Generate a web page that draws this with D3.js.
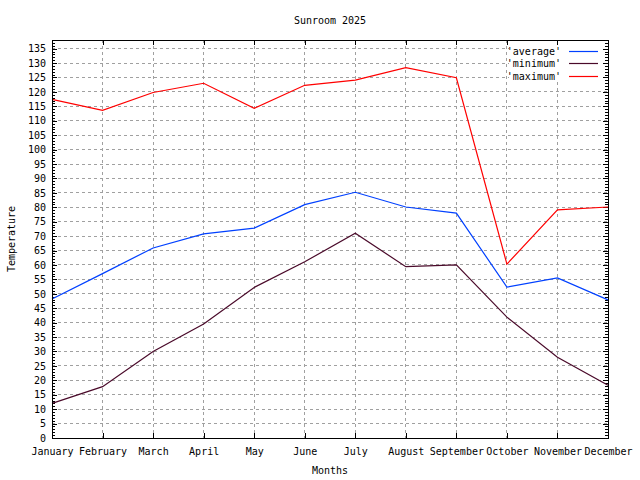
<!DOCTYPE html>
<html>
<head>
<meta charset="utf-8">
<script src="https://cdn.jsdelivr.net/npm/d3@7"></script>
<style>
  body { margin: 0; background: #fff; }
  text { font-family: "DejaVu Sans Mono", monospace; font-size: 10px; fill: #000; }
</style>
</head>
<body>
<div class="chart"></div>
<script>

var months = ["January", "February", "March", "April", "May", "June",
              "July", "August", "September", "October", "November", "December"];
var average = [48.2, 57.0, 65.9, 70.8, 72.8, 80.9, 85.2, 80.1, 78.0, 52.3, 55.5, 47.9];
var minimum = [12.0, 17.8, 30.0, 39.5, 52.2, 61.1, 71.0, 59.4, 60.0, 41.9, 28.0, 18.3];
var maximum = [117.4, 113.6, 119.8, 123.0, 114.3, 122.3, 124.1, 128.4, 124.9, 60.3, 79.1, 80.1];
var yTicks = d3.range(0, 136, 5);
var yMinor = d3.range(0, 139, 1);

var w = 640;
var h = 480;
var plotL = 52, plotR = 608, plotT = 40, plotB = 438;

var svg = d3.select(".chart")
            .append("svg")
            .attr("width", w)
            .attr("height", h);

var x = d3.scalePoint().domain(months).range([plotL, plotR]).padding(0);
var y = d3.scaleLinear().domain([0, 138]).range([plotB, plotT]);

// grid
var grid = svg.append("g")
              .attr("stroke", "#a0a0a0")
              .attr("stroke-dasharray", "3,3")
              .attr("shape-rendering", "crispEdges");

grid.selectAll("line.h")
    .data(yTicks.slice(1))
    .enter()
    .append("line")
    .attr("class", "h")
    .attr("x1", plotL)
    .attr("x2", plotR)
    .attr("y1", function(d) { return y(d); })
    .attr("y2", function(d) { return y(d); });

grid.selectAll("line.v")
    .data(months.slice(1, -1))
    .enter()
    .append("line")
    .attr("class", "v")
    .attr("x1", function(d) { return x(d); })
    .attr("x2", function(d) { return x(d); })
    .attr("y1", plotT)
    .attr("y2", plotB);

// axes, ticks pointing inward
function tidy(g) {
  g.attr("shape-rendering", "crispEdges");
  g.select(".domain").remove();
  g.selectAll("text").style("font-family", "DejaVu Sans Mono").style("font-size", "10px");
}

svg.append("g")
   .attr("transform", "translate(" + plotL + ",0)")
   .call(d3.axisLeft(y).tickValues(yTicks).tickSize(-5).tickPadding(6))
   .call(tidy);

svg.append("g")
   .attr("transform", "translate(" + plotL + ",0)")
   .call(d3.axisLeft(y).tickValues(yMinor).tickSize(-3).tickFormat(""))
   .call(tidy);

svg.append("g")
   .attr("transform", "translate(" + plotR + ",0)")
   .call(d3.axisRight(y).tickValues(yTicks).tickSize(-5).tickFormat(""))
   .call(tidy);

svg.append("g")
   .attr("transform", "translate(" + plotR + ",0)")
   .call(d3.axisRight(y).tickValues(yMinor).tickSize(-3).tickFormat(""))
   .call(tidy);

svg.append("g")
   .attr("transform", "translate(0," + plotB + ")")
   .call(d3.axisBottom(x).tickSize(-5).tickPadding(10))
   .call(tidy);

svg.append("g")
   .attr("transform", "translate(0," + plotT + ")")
   .call(d3.axisTop(x).tickSize(-5).tickFormat(""))
   .call(tidy);

// lines
var series = [
  { name: "'average'", values: average, color: "#0040ff" },
  { name: "'minimum'", values: minimum, color: "#4a0a2a" },
  { name: "'maximum'", values: maximum, color: "#ff0000" }
];

var line = d3.line()
             .x(function(d, i) { return x(months[i]); })
             .y(function(d) { return y(d); });

svg.selectAll("path.series")
   .data(series)
   .enter()
   .append("path")
   .attr("class", "series")
   .attr("d", function(d) { return line(d.values); })
   .attr("fill", "none")
   .attr("stroke", function(d) { return d.color; })
   .attr("stroke-width", 1.2);

// opaque key box
svg.append("rect")
   .attr("x", 509)
   .attr("y", plotT)
   .attr("width", plotR - 509)
   .attr("height", 39)
   .attr("fill", "#fff");

var legend = svg.selectAll("g.legend")
                .data(series)
                .enter()
                .append("g")
                .attr("class", "legend")
                .attr("transform", function(d, i) {
                  return "translate(0," + Math.round(51 + i * 12.3) + ")";
                });

legend.append("text")
      .attr("x", 561)
      .attr("y", 4)
      .attr("text-anchor", "end")
      .style("fill", "#000")
      .text(function(d) { return d.name; });

legend.append("line")
      .attr("x1", 569)
      .attr("x2", 598)
      .attr("y1", 0.5)
      .attr("y2", 0.5)
      .attr("stroke", function(d) { return d.color; })
      .attr("stroke-width", 1.2);

// frame
svg.append("rect")
   .attr("x", plotL)
   .attr("y", plotT)
   .attr("width", plotR - plotL)
   .attr("height", plotB - plotT)
   .attr("fill", "none")
   .attr("stroke", "#000")
   .attr("shape-rendering", "crispEdges");

// redraw right-side ticks over the key box
svg.append("g")
   .attr("transform", "translate(" + plotR + ",0)")
   .call(d3.axisRight(y).tickValues(yMinor.filter(function(d) { return d > 124; })).tickSize(-3).tickFormat(""))
   .call(tidy);

svg.append("g")
   .attr("transform", "translate(" + plotR + ",0)")
   .call(d3.axisRight(y).tickValues([125, 130, 135]).tickSize(-5).tickFormat(""))
   .call(tidy);

svg.append("g")
   .attr("transform", "translate(0," + plotT + ")")
   .call(d3.axisTop(x).tickValues(["November"]).tickSize(-5).tickFormat(""))
   .call(tidy);

// labels
svg.append("text")
   .attr("x", (plotL + plotR) / 2)
   .attr("y", 24)
   .attr("text-anchor", "middle")
   .text("Sunroom 2025");

svg.append("text")
   .attr("x", (plotL + plotR) / 2)
   .attr("y", 474)
   .attr("text-anchor", "middle")
   .text("Months");

svg.append("text")
   .attr("transform", "translate(15," + (plotT + plotB) / 2 + ") rotate(-90)")
   .attr("text-anchor", "middle")
   .text("Temperature");

</script>
</body>
</html>
